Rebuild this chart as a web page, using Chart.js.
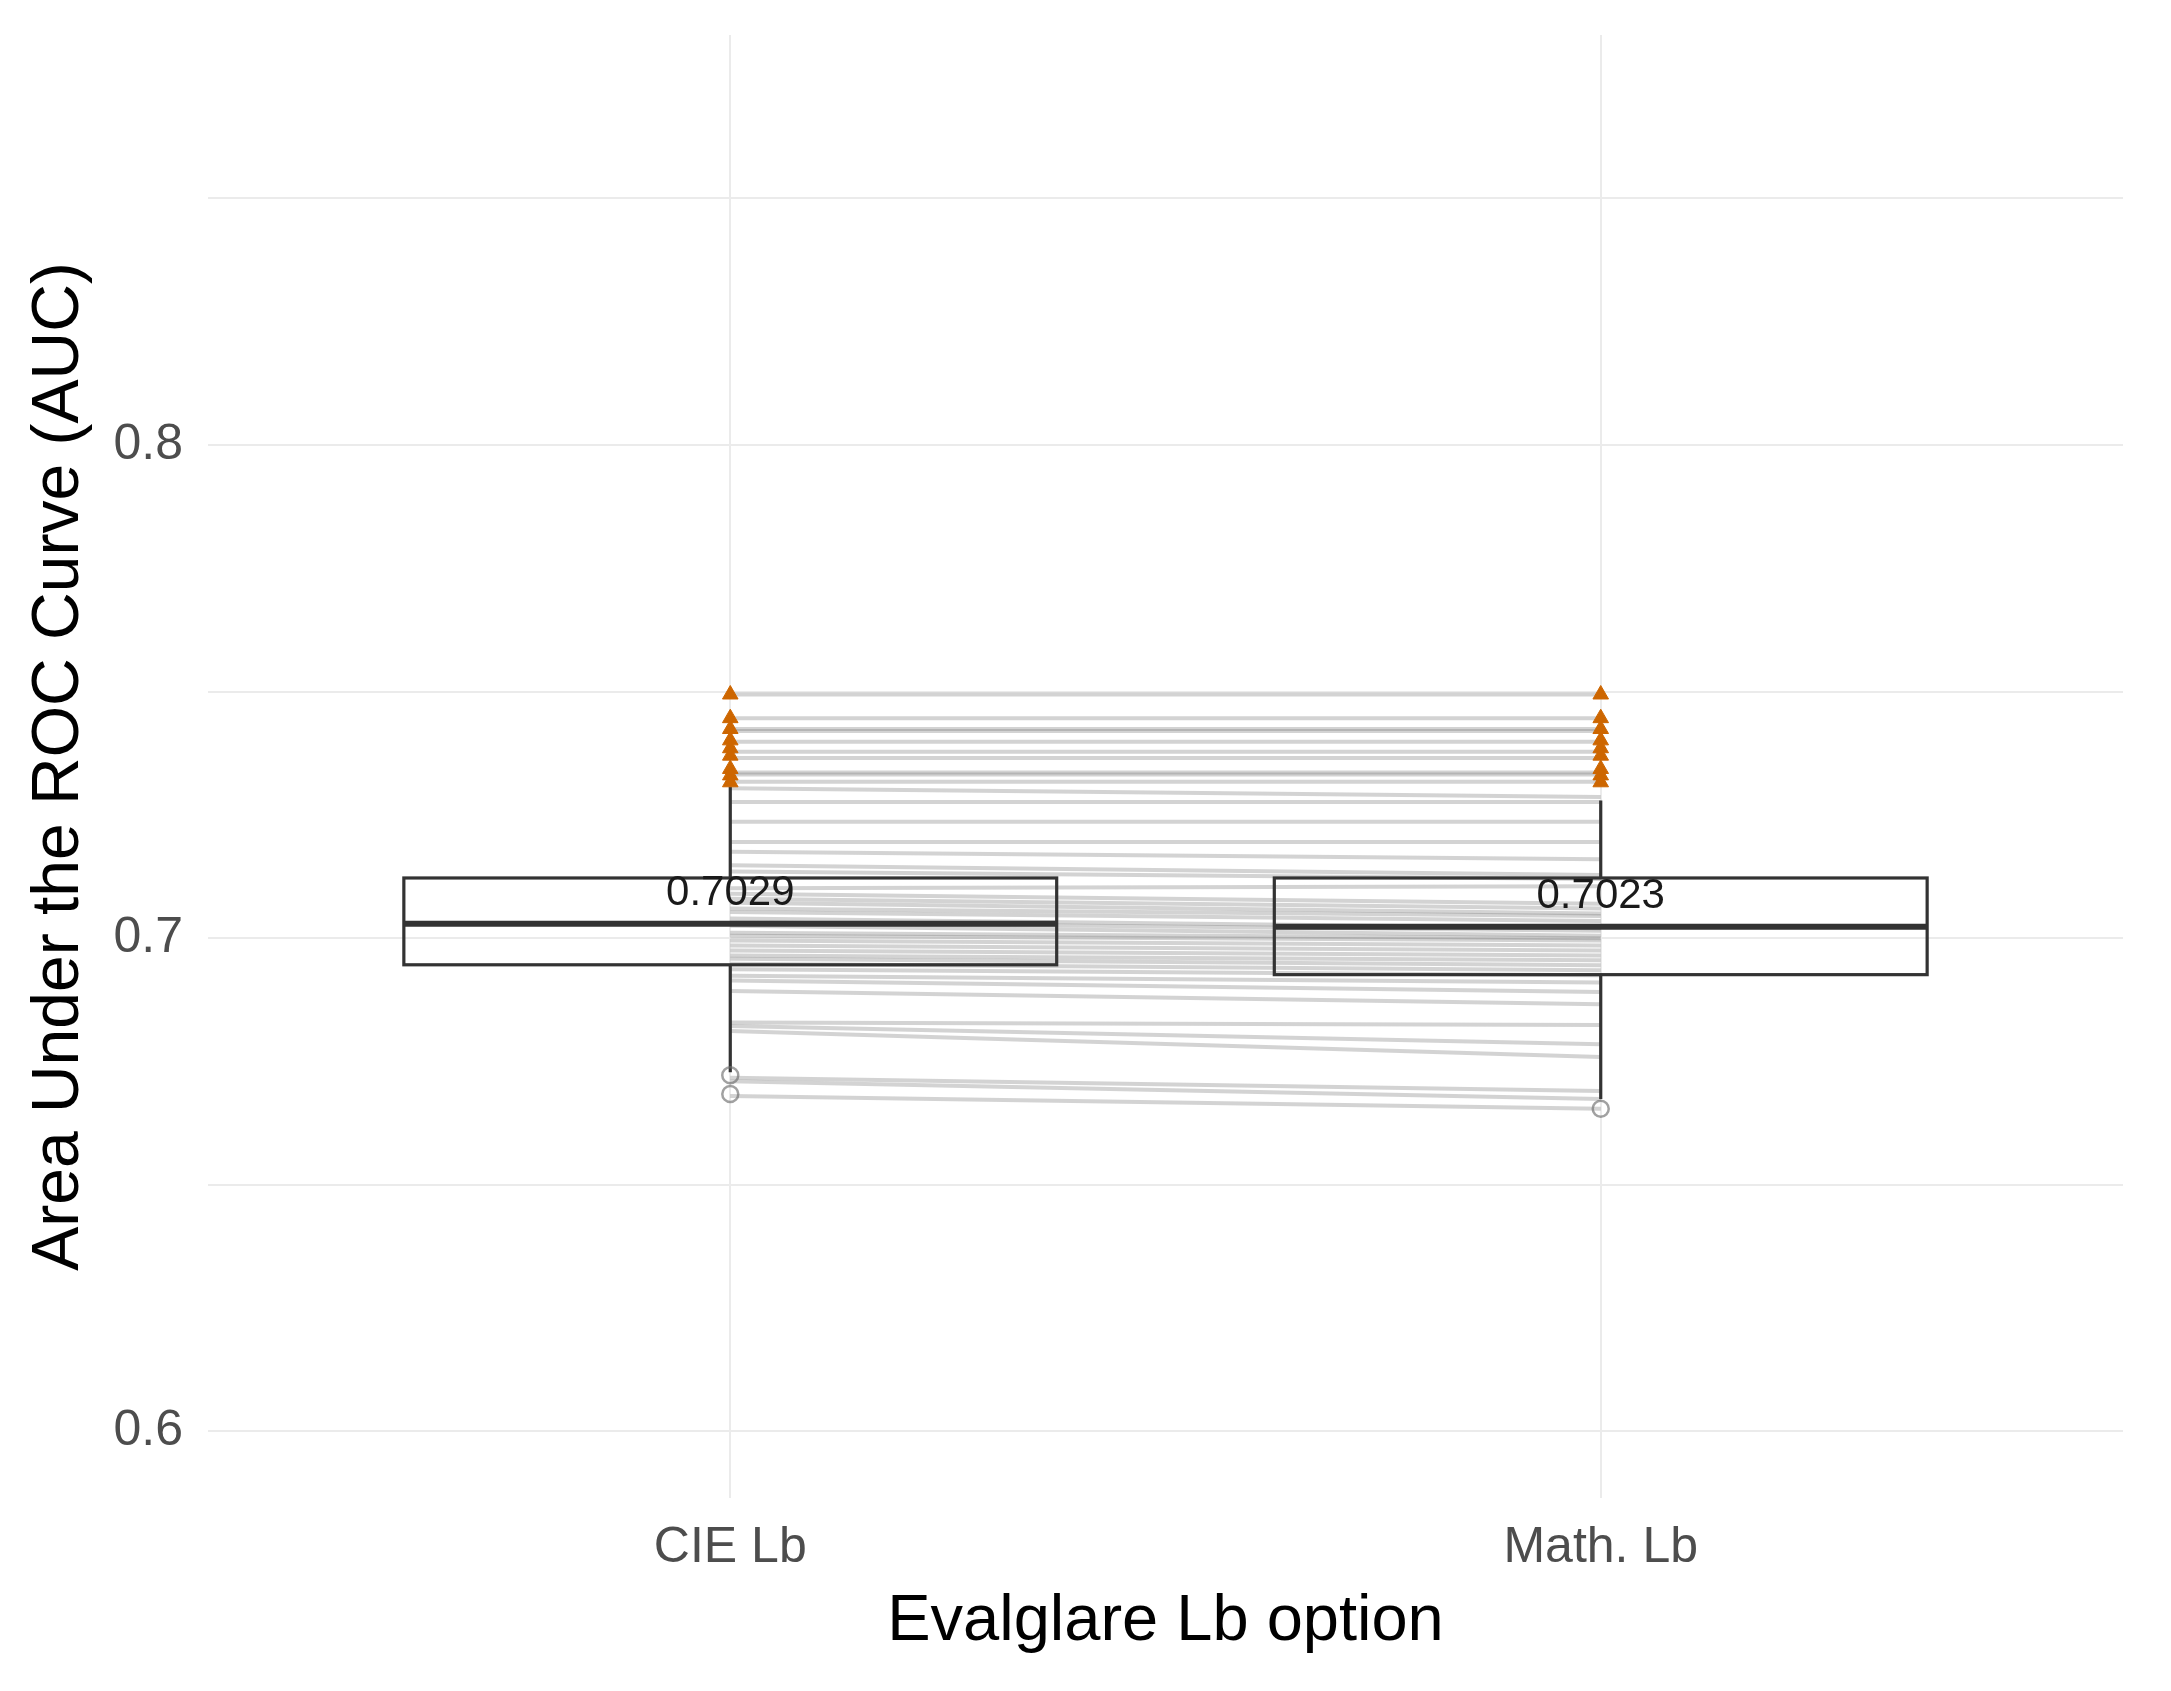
<!DOCTYPE html>
<html>
<head>
<meta charset="utf-8">
<script src="https://cdn.jsdelivr.net/npm/chart.js@4.4.1/dist/chart.umd.min.js"></script>
<style>
  html, body { margin: 0; padding: 0; background: #fff; }
  #wrap { width: 2171px; height: 1691px; position: relative; }
</style>
</head>
<body>
<div id="wrap"><canvas id="aucChart"></canvas></div>
<script>
// categories and tick labels
const xCategories = ["CIE Lb", "Math. Lb"];
const yTickLabels = ["0.6", "0.7", "0.8"];

// paired AUC values (one line per configuration), CIE Lb -> Math. Lb
const cieAuc = [
  0.7494, 0.7446, 0.7424, 0.7420, 0.7398, 0.7378, 0.7365, 0.7336, 0.7332, 0.7317,
  0.7304, 0.7276, 0.7236, 0.7195, 0.7175, 0.7148, 0.7135, 0.7101, 0.7090, 0.7080,
  0.7072, 0.7060, 0.7053, 0.7040, 0.7032, 0.7025, 0.7011, 0.7005, 0.6995, 0.6985,
  0.6975, 0.6965, 0.6958, 0.6948, 0.6937, 0.6924, 0.6914, 0.6893, 0.6829, 0.6822,
  0.6812, 0.6717, 0.6710, 0.6680
];
const mathAuc = [
  0.7494, 0.7446, 0.7424, 0.7420, 0.7398, 0.7378, 0.7365, 0.7336, 0.7332, 0.7317,
  0.7286, 0.7276, 0.7236, 0.7195, 0.7160, 0.7128, 0.7120, 0.7105, 0.7070, 0.7060,
  0.7050, 0.7045, 0.7035, 0.7020, 0.7015, 0.7005, 0.7000, 0.6995, 0.6985, 0.6975,
  0.6965, 0.6955, 0.6945, 0.6935, 0.6925, 0.6910, 0.6891, 0.6866, 0.6824, 0.6785,
  0.6759, 0.6690, 0.6674, 0.6654
];

// boxplot statistics per category
const boxQ1 = [0.6946, 0.6926];
const boxMedian = [0.7029, 0.7023];
const boxQ3 = [0.7122, 0.7122];
const whiskerLow = [0.6728, 0.6674];
const whiskerHigh = [0.7307, 0.7279];

// outliers (grey circles) and top configurations (orange triangles)
const cieOutliers = [0.6722, 0.6684];
const mathOutliers = [0.6654];
const cieTop = [0.7494, 0.7446, 0.7424, 0.7401, 0.7385, 0.7370, 0.7343, 0.7330, 0.7316];
const mathTop = [0.7494, 0.7446, 0.7424, 0.7401, 0.7385, 0.7370, 0.7343, 0.7330, 0.7316];

const FONT = "'Liberation Sans', Arial, sans-serif";

const triPoints = cieTop.map((v) => ({ x: 1, y: v })).concat(mathTop.map((v) => ({ x: 2, y: v })));
const outPoints = cieOutliers.map((v) => ({ x: 1, y: v })).concat(mathOutliers.map((v) => ({ x: 2, y: v })));

const pairSets = cieAuc.map((v, i) => ({
  data: [{ x: 1, y: v }, { x: 2, y: mathAuc[i] }],
  showLine: true,
  borderColor: "rgba(120, 120, 120, 0.33)",
  borderWidth: 4,
  pointRadius: 0,
  borderCapStyle: "butt",
}));

// boxes, whiskers and median labels, drawn just before the point layers
const boxPlugin = {
  id: "boxPlugin",
  beforeDatasetDraw(chart, args) {
    if (args.index !== 1) return;
    const { ctx, scales } = chart;
    const xs = scales.x, ys = scales.y;
    ctx.save();
    ctx.strokeStyle = "#333333";
    xCategories.forEach((c, i) => {
      const cx = xs.getPixelForValue(i + 1);
      const x0 = xs.getPixelForValue(i + 1 - 0.375);
      const x1 = xs.getPixelForValue(i + 1 + 0.375);
      const yq1 = ys.getPixelForValue(boxQ1[i]);
      const yq3 = ys.getPixelForValue(boxQ3[i]);
      const ymed = ys.getPixelForValue(boxMedian[i]);
      ctx.lineWidth = 3.2;
      ctx.beginPath();
      ctx.moveTo(cx, yq3);
      ctx.lineTo(cx, ys.getPixelForValue(whiskerHigh[i]));
      ctx.moveTo(cx, yq1);
      ctx.lineTo(cx, ys.getPixelForValue(whiskerLow[i]));
      ctx.stroke();
      ctx.lineWidth = 3.2;
      ctx.strokeRect(x0, yq3, x1 - x0, yq1 - yq3);
      ctx.lineWidth = 6;
      ctx.beginPath();
      ctx.moveTo(x0, ymed);
      ctx.lineTo(x1, ymed);
      ctx.stroke();
      ctx.fillStyle = "#1a1a1a";
      ctx.font = "42px " + FONT;
      ctx.textAlign = "center";
      ctx.textBaseline = "middle";
      ctx.fillText(boxMedian[i].toFixed(4), cx, ymed - 30);
    });
    ctx.restore();
  },
};

const ctx = document.getElementById("aucChart").getContext("2d");

const chart = new Chart(ctx, {
  type: "scatter",
  data: {
    datasets: [
      {
        data: triPoints,
        pointStyle: "triangle",
        pointRadius: 9,
        backgroundColor: "#CD6600",
        borderColor: "#CD6600",
        borderWidth: 1,
      },
      {
        data: outPoints,
        pointStyle: "circle",
        pointRadius: 8,
        backgroundColor: "rgba(0,0,0,0)",
        borderColor: "rgba(110, 110, 110, 0.65)",
        borderWidth: 2.5,
      },
      ...pairSets,
    ],
  },
  options: {
    responsive: true,
    maintainAspectRatio: false,
    animation: false,
    layout: { padding: { left: 0, top: 35, right: 48, bottom: 0 } },
    plugins: {
      legend: { display: false },
      tooltip: { enabled: false },
    },
    scales: {
      x: {
        type: "linear",
        min: 0.4,
        max: 2.6,
        afterBuildTicks: (scale) => {
          scale.ticks = xCategories.map((c, i) => ({ value: i + 1 }));
        },
        afterFit: (scale) => {
          scale.height = 193;
          scale.paddingLeft = 0;
          scale.paddingRight = 0;
        },
        grid: { color: "#ebebeb", lineWidth: 2, drawTicks: false },
        border: { display: false },
        ticks: {
          padding: 20,
          color: "#4d4d4d",
          font: { family: FONT, size: 50 },
          callback: (v) => xCategories[Math.round(v) - 1],
        },
        title: {
          display: true,
          text: "Evalglare Lb option",
          color: "#000000",
          font: { family: FONT, size: 65 },
          padding: { top: 0, bottom: 30 },
        },
      },
      y: {
        type: "linear",
        min: 0.5865,
        max: 0.8831,
        afterFit: (scale) => {
          scale.width = 208;
          scale.paddingTop = 0;
          scale.paddingBottom = 0;
        },
        grid: { color: "#ebebeb", lineWidth: 2, drawTicks: false },
        border: { display: false },
        ticks: {
          stepSize: 0.05,
          includeBounds: false,
          padding: 25,
          color: "#4d4d4d",
          font: { family: FONT, size: 50 },
          callback: (v) => {
            const s = (Math.round(v * 100) / 100).toString();
            return yTickLabels.includes(s) ? s : "";
          },
        },
        title: {
          display: true,
          text: "Area Under the ROC Curve (AUC)",
          color: "#000000",
          font: { family: FONT, size: 66 },
          padding: { top: 20, bottom: 0 },
        },
      },
    },
  },
  plugins: [boxPlugin],
});
</script>
</body>
</html>
